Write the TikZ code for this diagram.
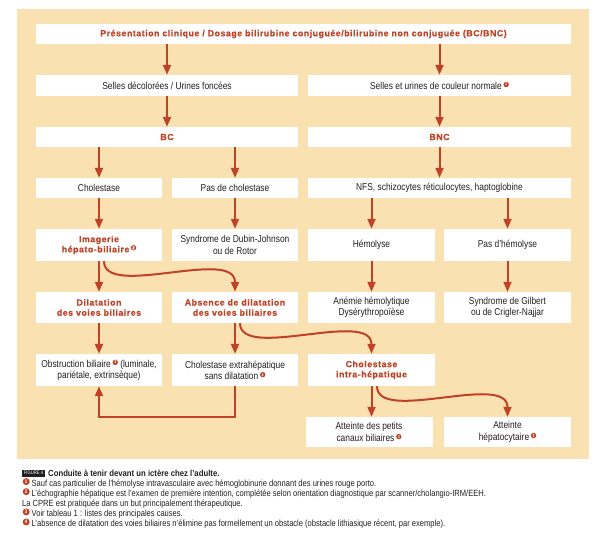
\documentclass[tikz,border=0pt]{standalone}
\usepackage{fontspec}
\setmainfont{Liberation Sans}[FakeStretch=0.84]
\newfontfamily\redbf{Liberation Sans}[LetterSpace=6,FakeBold=0.4]
\newfontfamily\capf{Liberation Sans}[FakeStretch=0.84]
\newfontfamily\capb{Liberation Sans}[FakeStretch=0.88]
\usetikzlibrary{arrows.meta}
\definecolor{beige}{RGB}{250,225,178}
\definecolor{myred}{RGB}{192,66,38}
\definecolor{txt}{RGB}{35,31,32}
\newcommand\cnsup[1]{\,\tikz[x=1cm,y=1cm,baseline=-4.6pt]\node[circle,fill=myred,inner sep=0pt,minimum size=5.4pt,text=white,font=\fontsize{4.2}{4.2}\selectfont\bfseries]{#1};}
\newcommand\cncap[1]{\tikz[x=1cm,y=1cm,baseline=-2.7pt]\node[circle,fill=myred,inner sep=0pt,minimum size=7pt,text=white,font=\fontsize{5.3}{5.3}\selectfont\bfseries]{#1};\hspace{2pt}}
\begin{document}
\begin{tikzpicture}[x=1pt,y=-1pt,
  box/.style={fill=white,inner sep=0pt,align=center,text=txt,font=\fontsize{10}{11.2}\selectfont},
  rbox/.style={box,text=myred,font=\redbf\bfseries\fontsize{8.8}{10.2}\selectfont},
  arr/.style={draw=myred,line width=2pt,-{Triangle[length=10pt,width=8pt]}},
  capl/.style={anchor=base west,inner sep=0pt,text=txt,font=\capf\fontsize{9}{10}\selectfont}]
\useasboundingbox (0,0) rectangle (600,538);
\fill[beige] (17,9) rectangle (589,459);
% row 1
\node[rbox,minimum width=535pt,minimum height=20pt] (top) at (303.5,34) {Présentation clinique / Dosage bilirubine conjuguée/bilirubine non conjuguée (BC/BNC)};
% row 2
\node[box,minimum width=262pt,minimum height=21pt] (sl) at (167,85.5) {Selles décolorées / Urines foncées};
\node[box,minimum width=263pt,minimum height=21pt] (sr) at (439.5,85.5) {Selles et urines de couleur normale\cnsup{1}};
% row 3
\node[rbox,minimum width=262pt,minimum height=20pt] (bc) at (167,137) {BC};
\node[rbox,minimum width=263pt,minimum height=20pt] (bnc) at (439.5,137) {BNC};
% row 4
\node[box,minimum width=126pt,minimum height=20pt] (chol) at (99,188) {Cholestase};
\node[box,minimum width=126pt,minimum height=20pt] (pchol) at (235,188) {Pas de cholestase};
\node[box,minimum width=263pt,minimum height=20pt] (nfs) at (439.5,188) {NFS, schizocytes réticulocytes, haptoglobine};
% row 5
\node[rbox,minimum width=126pt,minimum height=32pt] (imag) at (99,245) {Imagerie\\hépato-biliaire\cnsup{2}};
\node[box,minimum width=126pt,minimum height=32pt] (dubin) at (235,245) {Syndrome de Dubin-Johnson\\ou de Rotor};
\node[box,minimum width=127pt,minimum height=32pt] (hemo) at (371.5,245) {Hémolyse};
\node[box,minimum width=127pt,minimum height=32pt] (phemo) at (507.5,245) {Pas d’hémolyse};
% row 6
\node[rbox,minimum width=126pt,minimum height=31pt] (dil) at (99,307.5) {Dilatation\\des voies biliaires};
\node[rbox,minimum width=126pt,minimum height=31pt] (abs) at (235,307.5) {Absence de dilatation\\des voies biliaires};
\node[box,minimum width=127pt,minimum height=31pt] (anem) at (371.5,307.5) {Anémie hémolytique\\Dysérythropoïèse};
\node[box,minimum width=127pt,minimum height=31pt] (gilb) at (507.5,307.5) {Syndrome de Gilbert\\ou de Crigler-Najjar};
% row 7
\node[box,minimum width=126pt,minimum height=32pt] (obst) at (99,370) {Obstruction biliaire\cnsup{3} (luminale,\\pariétale, extrinsèque)};
\node[box,minimum width=126pt,minimum height=32pt] (cext) at (235,370) {Cholestase extrahépatique\\sans dilatation\cnsup{4}};
\node[rbox,minimum width=127pt,minimum height=32pt] (intra) at (371.5,370) {Cholestase\\intra-hépatique};
% row 8
\node[box,minimum width=127pt,minimum height=30pt] (petits) at (369,432) {Atteinte des petits\\canaux biliaires\cnsup{3}};
\node[box,minimum width=127pt,minimum height=30pt] (hepato) at (507.5,432) {Atteinte\\hépatocytaire\cnsup{3}};
% arrows
\draw[arr] (top.south -| sl.north) -- (sl.north);
\draw[arr] (top.south -| sr.north) -- (sr.north);
\draw[arr] (sl.south) -- (bc.north);
\draw[arr] (sr.south) -- (bnc.north);
\draw[arr] (bc.south -| chol.north) -- (chol.north);
\draw[arr] (bc.south -| pchol.north) -- (pchol.north);
\draw[arr] (bnc.south) -- (nfs.north);
\draw[arr] (chol.south) -- (imag.north);
\draw[arr] (pchol.south) -- (dubin.north);
\draw[arr] (nfs.south -| hemo.north) -- (hemo.north);
\draw[arr] (nfs.south -| phemo.north) -- (phemo.north);
\draw[arr] (imag.south) -- (dil.north);
\draw[arr] (hemo.south) -- (anem.north);
\draw[arr] (phemo.south) -- (gilb.north);
\draw[arr] (dil.south) -- (obst.north);
\draw[arr] (abs.south) -- (cext.north);
\draw[arr] (intra.south) -- (intra.south |- petits.north);
\draw[arr] ([xshift=5pt]imag.south) .. controls +(0,38) and +(0,-45) .. (abs.north);
\draw[arr] ([xshift=5pt]abs.south) .. controls +(0,38) and +(0,-45) .. (intra.north);
\draw[arr] ([xshift=5.5pt]intra.south) .. controls +(0,38) and +(0,-45) .. (hepato.north);
\draw[arr] (cext.south) -- ++(0,31) -| (obst.south);
% caption
\node[fill=txt,text=white,inner sep=0pt,minimum width=23pt,minimum height=7pt,font=\capf\fontsize{5}{5}\selectfont] (fig) at (33.5,473) {FIGURE 4};
\node[capl,font=\capb\bfseries\fontsize{8.8}{10}\selectfont] (c0) at (48,476) {Conduite à tenir devant un ictère chez l’adulte.};
\node[capl] (c1) at (22.5,486.1) {\cncap{1}Sauf cas particulier de l’hémolyse intravasculaire avec hémoglobinurie donnant des urines rouge porto.};
\node[capl] (c2) at (22.5,496.2) {\cncap{2}L’échographie hépatique est l’examen de première intention, complétée selon orientation diagnostique par scanner/cholangio-IRM/EEH.};
\node[capl] (c3) at (22,506.3) {La CPRE est pratiquée dans un but principalement thérapeutique.};
\node[capl] (c4) at (22.5,516.4) {\cncap{3}Voir tableau 1 : listes des principales causes.};
\node[capl] (c5) at (22.5,526.5) {\cncap{4}L’absence de dilatation des voies biliaires n’élimine pas formellement un obstacle (obstacle lithiasique récent, par exemple).};
\end{tikzpicture}
\end{document}
